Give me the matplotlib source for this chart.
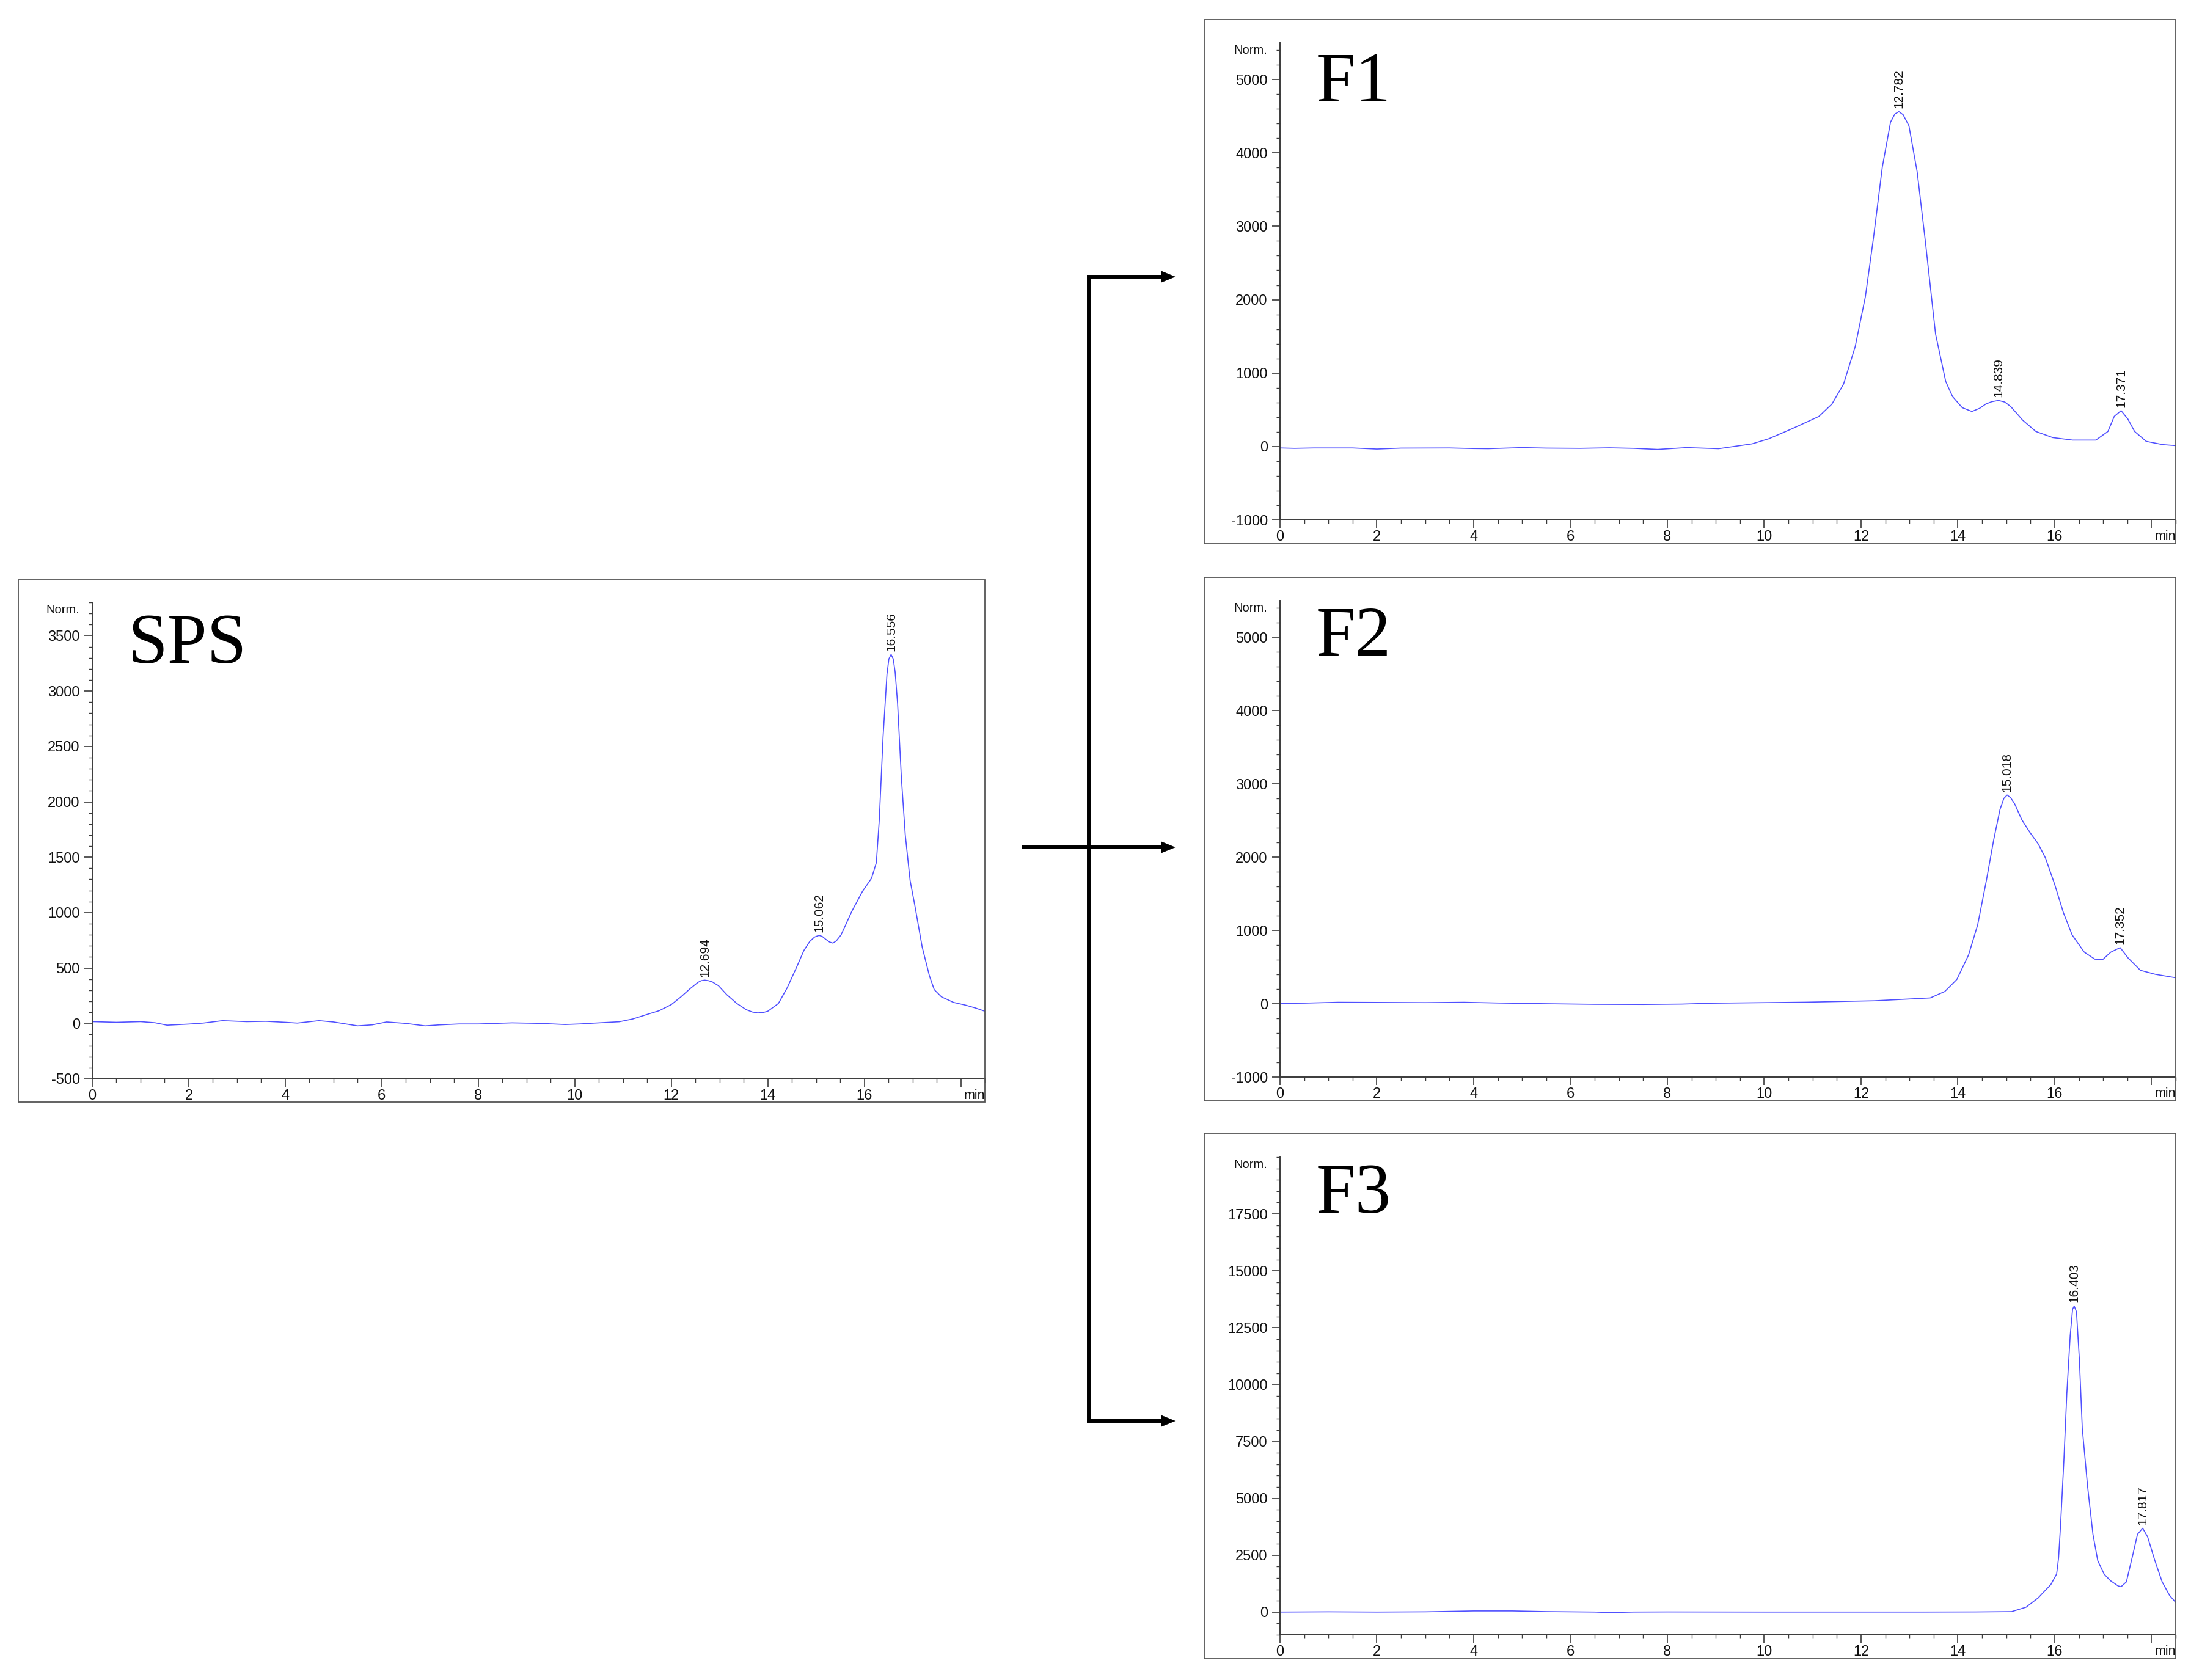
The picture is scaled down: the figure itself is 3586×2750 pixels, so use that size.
import matplotlib
matplotlib.use('Agg')
import matplotlib.pyplot as plt
from matplotlib.ticker import MultipleLocator, FixedLocator
from matplotlib.patches import Rectangle, Polygon
from matplotlib.lines import Line2D

plt.rcParams['font.family'] = ['Liberation Sans', 'DejaVu Sans']

# ---- data (time in min, signal in Norm.) ----
sps_t = [0, 0.5, 1.0, 1.3, 1.55, 2.0, 2.3, 2.7, 3.2, 3.6, 4.0, 4.25, 4.7, 5.0, 5.5, 5.8,
         6.1, 6.5, 6.9, 7.2, 7.6, 8.0, 8.7, 9.3, 9.8, 10.1, 10.5, 10.92, 11.2, 11.46, 11.75,
         12.0, 12.2, 12.38, 12.55, 12.62, 12.694, 12.77, 12.85, 12.98, 13.15, 13.36, 13.55,
         13.68, 13.79, 13.9, 14.0, 14.22, 14.4, 14.6, 14.75, 14.87, 14.97, 15.062, 15.13,
         15.2, 15.28, 15.35, 15.42, 15.52, 15.74, 15.96, 16.15, 16.25, 16.31, 16.39, 16.47,
         16.51, 16.556, 16.60, 16.64, 16.69, 16.77, 16.85, 16.95, 17.05, 17.2, 17.35, 17.45,
         17.6, 17.85, 18.1, 18.3, 18.5]
sps_y = [16, 10, 16, 6, -16, -6, 3, 25, 16, 19, 10, 3, 25, 13, -22, -13,
         13, 0, -22, -13, -5, -5, 5, 0, -10, -5, 5, 15, 40, 76, 115,
         170, 240, 310, 370, 386, 391, 386, 375, 340, 260, 180, 125,
         103, 95, 98, 110, 180, 320, 510, 660, 740, 780, 795, 785,
         760, 735, 725, 745, 800, 1010, 1190, 1310, 1450, 1830, 2590, 3150,
         3290, 3330, 3290, 3170, 2890, 2210, 1700, 1290, 1060, 690, 430, 305,
         240, 190, 165, 140, 110]

f1_t = [0, 0.3, 0.7, 1.5, 2.0, 2.5, 3.5, 4.0, 4.3, 5.0, 5.5, 6.2, 6.8, 7.3, 7.8, 8.4,
        9.06, 9.75, 10.09, 10.57, 11.13, 11.40, 11.64, 11.88, 12.09, 12.26, 12.44, 12.61,
        12.70, 12.782, 12.87, 12.99, 13.16, 13.33, 13.54, 13.75, 13.89, 14.09, 14.29, 14.45,
        14.58, 14.70, 14.839, 14.97, 15.09, 15.34, 15.61, 15.96, 16.37, 16.85, 17.10, 17.23,
        17.371, 17.51, 17.65, 17.89, 18.23, 18.5]
f1_y = [-20, -25, -20, -20, -35, -22, -20, -28, -30, -15, -22, -25, -18, -25, -40, -15,
        -30, 36, 104, 240, 409, 579, 851, 1361, 2041, 2856, 3808, 4420,
        4530, 4562, 4520, 4368, 3740, 2788, 1531, 885, 681, 529, 477, 520,
        579, 610, 627, 605, 545, 358, 205, 121, 87, 87, 205, 410,
        488, 375, 205, 70, 26, 12]

f2_t = [0, 0.5, 1.2, 2.0, 3.0, 3.8, 4.5, 5.5, 6.5, 7.5, 8.3, 8.91, 10.85, 12.27, 13.43,
        13.73, 13.98, 14.22, 14.41, 14.59, 14.74, 14.87, 14.95, 15.018, 15.09, 15.17, 15.32,
        15.48, 15.66, 15.81, 16.0, 16.18, 16.36, 16.61, 16.83, 16.99, 17.16, 17.352, 17.52,
        17.77, 18.08, 18.5]
f2_y = [5, 8, 20, 18, 15, 20, 10, 0, -8, -10, -5, 7, 21, 40, 79,
        167, 332, 663, 1077, 1683, 2234, 2648, 2800, 2847, 2810, 2731, 2511,
        2345, 2180, 1987, 1628, 1242, 939, 704, 608, 602, 704, 765, 621,
        456, 401, 354]

f3_t = [0, 1, 2, 3, 4, 4.8, 5.5, 6.5, 6.8, 7.3, 8, 10, 12, 13.3, 14.36, 15.11, 15.41,
        15.66, 15.92, 16.04, 16.08, 16.12, 16.19, 16.25, 16.32, 16.37, 16.403, 16.45,
        16.51, 16.57, 16.68, 16.79, 16.89, 17.02, 17.15, 17.31, 17.37, 17.48, 17.61, 17.71,
        17.817, 17.92, 18.07, 18.22, 18.37, 18.5]
f3_y = [0, 10, 0, 10, 50, 50, 20, 0, -25, 0, 5, 0, 0, 0, 5, 19, 215,
        624, 1206, 1672, 2370, 3767, 6677, 9587, 12148, 13312, 13453, 13196,
        11100, 8073, 5513, 3418, 2254, 1672, 1380, 1148, 1113, 1323, 2487, 3418,
        3685, 3301, 2253, 1323, 741, 420]

sps_peaks = [(12.694, 391), (15.062, 795), (16.556, 3330)]
f1_peaks = [(12.782, 4562), (14.839, 627), (17.371, 488)]
f2_peaks = [(15.018, 2847), (17.352, 765)]
f3_peaks = [(16.403, 13453), (17.817, 3685)]

x_labels = ['0', '2', '4', '6', '8', '10', '12', '14', '16', '']

# ---- layout (figure pixels) ----
W, H = 3586, 2750
fig = plt.figure(figsize=(W / 100, H / 100), dpi=100)
fig.patch.set_facecolor('white')

line_color = '#5050ff'
axis_color = '#3a3a3a'


def frame(x0, y0, x1, y1):
    fig.patches.append(Rectangle((x0 / W, 1 - y1 / H), (x1 - x0) / W, (y1 - y0) / H,
                                 transform=fig.transFigure, fill=False,
                                 ec='#555555', lw=1.3))


def panel(box, t, y, ylim, yticks, yminor, peaks, name, name_y):
    left, top, right, bottom = box
    ax = fig.add_axes([left / W, 1 - bottom / H, (right - left) / W, (bottom - top) / H])
    ax.plot(t, y, color=line_color, lw=1.2)
    ax.set_xlim(0, 18.5)
    ax.set_ylim(*ylim)
    for s in ['top', 'right']:
        ax.spines[s].set_visible(False)
    for s in ['left', 'bottom']:
        ax.spines[s].set_color(axis_color)
        ax.spines[s].set_linewidth(1.4)
    ax.xaxis.set_major_locator(FixedLocator(list(range(0, 19, 2))))
    ax.set_xticklabels(x_labels)
    ax.xaxis.set_minor_locator(MultipleLocator(0.5))
    ax.yaxis.set_major_locator(FixedLocator(yticks))
    ax.set_yticklabels([str(v) for v in yticks])
    ax.yaxis.set_minor_locator(MultipleLocator(yminor))
    ax.tick_params(which='major', length=9.5, width=1.2, color=axis_color,
                   labelsize=17, labelcolor='#111111', pad=3)
    ax.tick_params(which='minor', length=4.5, width=1.0, color=axis_color)
    ax.tick_params(axis='y', which='major', pad=5)
    ax.annotate('Norm.', xy=(0, 1), xycoords='axes fraction', xytext=(-15, -9),
                textcoords='offset points', ha='right', va='center', fontsize=14.5,
                color='#111111')
    ax.annotate('min', xy=(1, 0), xycoords='axes fraction', xytext=(0, -12.5),
                textcoords='offset points', ha='right', va='top', fontsize=15.5,
                color='#111111')
    for pt, pv in peaks:
        ax.annotate(f'{pt:.3f}', xy=(pt, pv), xytext=(0, 4), textcoords='offset points',
                    rotation=90, ha='center', va='bottom', fontsize=15, color='#111111')
    ax.text(0.04, name_y, name, transform=ax.transAxes, ha='left', va='baseline',
            fontsize=84, family='Liberation Serif', color='black')
    ax.patch.set_alpha(0)
    return ax


# frames
frame(30, 949, 1612, 1804)
frame(1971, 32, 3561, 890)
frame(1971, 945, 3561, 1802)
frame(1971, 1855, 3561, 2715)

panel((151, 986, 1612, 1766), sps_t, sps_y, (-500, 3800),
      list(range(-500, 3501, 500)), 100, sps_peaks, 'SPS', 0.873)
panel((2095, 70, 3561, 851), f1_t, f1_y, (-1000, 5500),
      list(range(-1000, 5001, 1000)), 200, f1_peaks, 'F1', 0.877)
panel((2095, 983, 3561, 1763), f2_t, f2_y, (-1000, 5500),
      list(range(-1000, 5001, 1000)), 200, f2_peaks, 'F2', 0.884)
panel((2095, 1894, 3561, 2676), f3_t, f3_y, (-1000, 20000),
      list(range(0, 17501, 2500)), 500, f3_peaks, 'F3', 0.884)


# connecting arrows
def seg(x0, y0, x1, y1):
    fig.lines.append(Line2D([x0 / W, x1 / W], [1 - y0 / H, 1 - y1 / H],
                            transform=fig.transFigure, color='black', lw=4.3,
                            solid_capstyle='butt'))


def head(xtip, y):
    pts = [(xtip / W, 1 - y / H), ((xtip - 22) / W, 1 - (y - 9) / H),
           ((xtip - 22) / W, 1 - (y + 9) / H)]
    fig.patches.append(Polygon(pts, closed=True, transform=fig.transFigure,
                               fc='black', ec='black', lw=0.5))


seg(1782, 451, 1782, 2328)
for yy, xs in [(453, 1779), (1387, 1672), (2326, 1779)]:
    seg(xs, yy, 1903, yy)
    head(1923, yy)

fig.savefig('out.png', dpi=100, facecolor='white')
